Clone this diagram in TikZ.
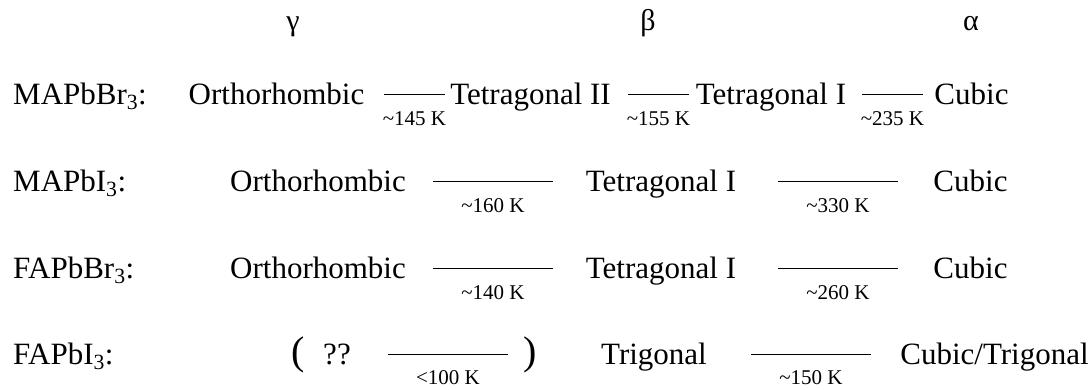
\documentclass[tikz,border=0pt]{standalone}
\usepackage{fontspec}
\setmainfont{Liberation Serif}
\begin{document}
\begin{tikzpicture}[x=1pt,y=-1pt]
\tikzset{
  txt/.style={font=\fontsize{31}{37}\selectfont, inner sep=0pt, anchor=base},
  lbl/.style={font=\fontsize{31}{37}\selectfont, inner sep=0pt, anchor=base west},
  temp/.style={font=\fontsize{21}{25}\selectfont, inner sep=0pt, anchor=base, yshift=-31pt},
  greek/.style={font=\fontsize{30}{36}\selectfont, inner sep=0pt, anchor=base},
  paren/.style={font=\fontsize{40}{48}\selectfont, inner sep=0pt, anchor=base},
  trans/.style={line width=0.8pt, black}
}
\useasboundingbox (0,0) rectangle (1092,389);
% phase letters
\node[greek] (g) at (293,30) {γ};
\node[greek] (b) at (648,30) {β};
\node[greek] (a) at (971,30) {α};
% row 1
\node[lbl] (r1) at (13,104) {MAPbBr\textsubscript{3}:};
\node[txt] (r1o) at (276.5,104) {Orthorhombic};
\node[txt] (r1t2) at (530.5,104) {Tetragonal II};
\node[txt] (r1t1) at (771,104) {Tetragonal I};
\node[txt] (r1c) at (971.5,104) {Cubic};
\coordinate (r1a1) at (384,94); \coordinate (r1b1) at (445,94);
\coordinate (r1a2) at (628,94); \coordinate (r1b2) at (689,94);
\coordinate (r1a3) at (862,94); \coordinate (r1b3) at (923,94);
\draw[trans] (r1a1) -- node[temp] {\textasciitilde145 K} (r1b1);
\draw[trans] (r1a2) -- node[temp] {\textasciitilde155 K} (r1b2);
\draw[trans] (r1a3) -- node[temp] {\textasciitilde235 K} (r1b3);
% row 2
\node[lbl] (r2) at (13,191) {MAPbI\textsubscript{3}:};
\node[txt] (r2o) at (318,191) {Orthorhombic};
\node[txt] (r2t1) at (661,191) {Tetragonal I};
\node[txt] (r2c) at (970.5,191) {Cubic};
\coordinate (r2a1) at (433,181); \coordinate (r2b1) at (553,181);
\coordinate (r2a2) at (778,181); \coordinate (r2b2) at (898,181);
\draw[trans] (r2a1) -- node[temp] {\textasciitilde160 K} (r2b1);
\draw[trans] (r2a2) -- node[temp] {\textasciitilde330 K} (r2b2);
% row 3
\node[lbl] (r3) at (13,278) {FAPbBr\textsubscript{3}:};
\node[txt] (r3o) at (318,278) {Orthorhombic};
\node[txt] (r3t1) at (661,278) {Tetragonal I};
\node[txt] (r3c) at (970.5,278) {Cubic};
\coordinate (r3a1) at (433,268); \coordinate (r3b1) at (553,268);
\coordinate (r3a2) at (778,268); \coordinate (r3b2) at (898,268);
\draw[trans] (r3a1) -- node[temp] {\textasciitilde140 K} (r3b1);
\draw[trans] (r3a2) -- node[temp] {\textasciitilde260 K} (r3b2);
% row 4
\node[lbl] (r4) at (13,364) {FAPbI\textsubscript{3}:};
\node[paren] (r4l) at (298,364) {(};
\node[txt] (r4q) at (337,364) {??};
\node[paren] (r4r) at (530,364) {)};
\node[txt] (r4tr) at (654,364) {Trigonal};
\node[txt] (r4c) at (994.5,364) {Cubic/Trigonal};
\coordinate (r4a1) at (388,354); \coordinate (r4b1) at (508,354);
\coordinate (r4a2) at (751,354); \coordinate (r4b2) at (871,354);
\draw[trans] (r4a1) -- node[temp, yshift=1pt] {<100 K} (r4b1);
\draw[trans] (r4a2) -- node[temp, yshift=1pt] {\textasciitilde150 K} (r4b2);
\end{tikzpicture}
\end{document}
